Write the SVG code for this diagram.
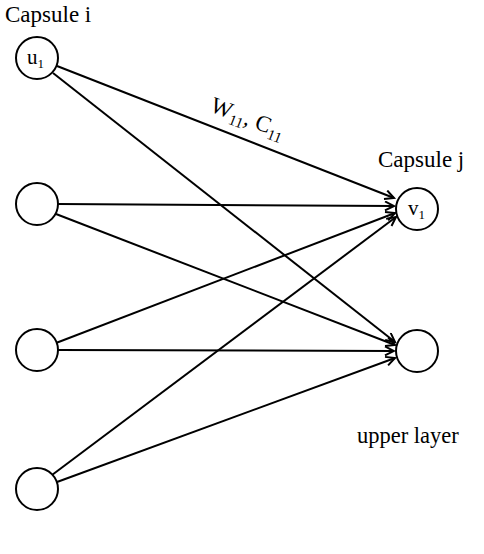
<svg xmlns="http://www.w3.org/2000/svg" width="484" height="554" viewBox="0 0 484 554">
<style>
.n{fill:#fff;stroke:#000;stroke-width:2}
.e{stroke:#000;stroke-width:2;fill:none;marker-end:url(#a)}
.t{font-family:'Liberation Serif','DejaVu Serif',serif;fill:#000}
</style>
<defs>
<marker id="a" markerWidth="12" markerHeight="12" refX="10" refY="5" orient="auto" markerUnits="userSpaceOnUse">
<path d="M1,0.5 L10,5 L1,9.5" fill="none" stroke="#000" stroke-width="2"/>
</marker>
</defs>
<rect width="484" height="554" fill="#fff"/>
<g id="connectors">
<line class="e" x1="57" y1="66" x2="394" y2="198"/>
<line class="e" x1="53" y1="73" x2="395" y2="342"/>
<line class="e" x1="58" y1="204" x2="394" y2="206"/>
<line class="e" x1="56" y1="214" x2="395" y2="345"/>
<line class="e" x1="56" y1="343" x2="395" y2="213"/>
<line class="e" x1="58" y1="350" x2="394" y2="351"/>
<line class="e" x1="52" y1="475" x2="396" y2="217"/>
<line class="e" x1="57" y1="482" x2="395" y2="358"/>
</g>
<g id="label-capsule-i"><text class="t" font-family="Liberation Serif, serif" x="5" y="22" font-size="23">Capsule i</text></g>
<g id="u1"><circle class="n" cx="37" cy="58" r="21"/><text class="t" font-family="Liberation Serif, serif" x="27" y="64" font-size="21">u<tspan font-size="13" dy="4">1</tspan></text></g>
<g id="n2"><circle class="n" cx="37" cy="204" r="21"/></g>
<g id="n3"><circle class="n" cx="37" cy="350" r="21"/></g>
<g id="n4"><circle class="n" cx="37" cy="489" r="21"/></g>
<g id="label-capsule-j"><text class="t" font-family="Liberation Serif, serif" x="378" y="167" font-size="23">Capsule j</text></g>
<g id="v1"><circle class="n" cx="417" cy="209" r="21"/><text class="t" font-family="Liberation Serif, serif" x="408" y="215" font-size="21">v<tspan font-size="13" dy="4">1</tspan></text></g>
<g id="n6"><circle class="n" cx="417" cy="351" r="21"/></g>
<g id="label-upper"><text class="t" font-family="Liberation Serif, serif" x="357" y="443" font-size="22.5">upper layer</text></g>
<g id="label-w"><text class="t" font-family="Liberation Serif, serif" transform="translate(209,111) rotate(21)" font-size="23">W<tspan font-size="15" dy="5">11</tspan><tspan dy="-5">, C</tspan><tspan font-size="15" dy="5">11</tspan></text></g>
</svg>
